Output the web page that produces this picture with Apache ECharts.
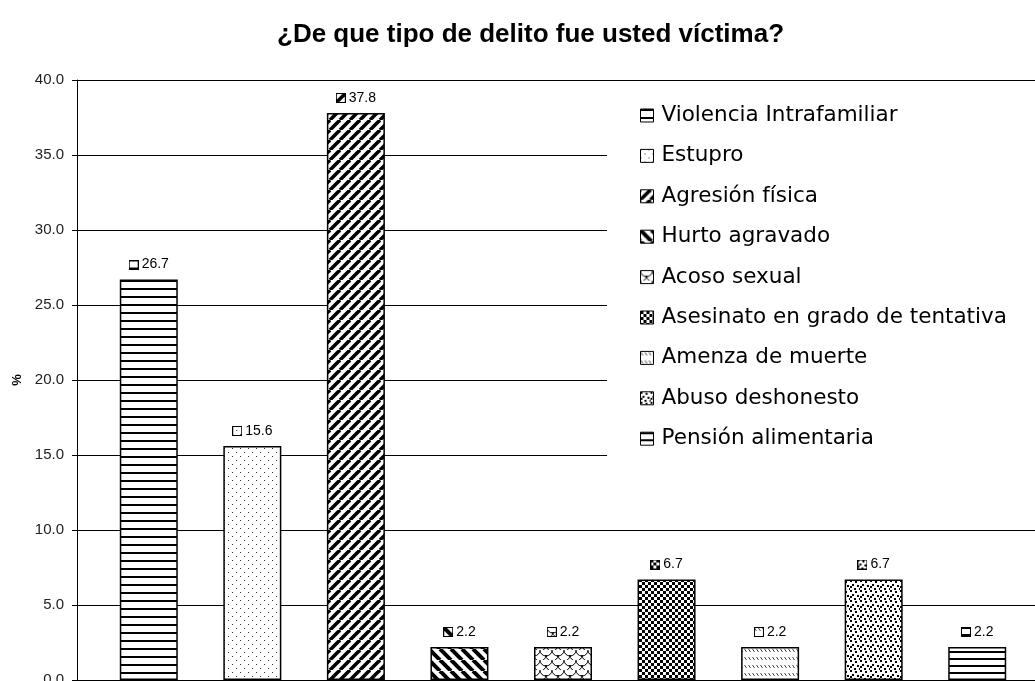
<!DOCTYPE html>
<html>
<head>
<meta charset="utf-8">
<script src="https://cdn.jsdelivr.net/npm/echarts@6/dist/echarts.min.js"></script>
<style>
html, body { margin: 0; padding: 0; background: #fff; }
#chart { width: 1035px; height: 681px; }
</style>
</head>
<body>
<div id="chart"></div>
<script>
// data
const categories = ['Violencia Intrafamiliar', 'Estupro', 'Agresión física', 'Hurto agravado', 'Acoso sexual', 'Asesinato en grado de tentativa', 'Amenza de muerte', 'Abuso deshonesto', 'Pensión alimentaria']
const values = [26.7, 15.6, 37.8, 2.2, 2.2, 6.7, 2.2, 6.7, 2.2]
const yMin = 0
const yMax = 40
const yStep = 5

// small black & white fill tiles, like the old office hatch fills
function tile(w, h, draw) {
  const c = document.createElement('canvas')
  c.width = w
  c.height = h
  const ctx = c.getContext('2d')
  ctx.fillStyle = '#fff'
  ctx.fillRect(0, 0, w, h)
  ctx.fillStyle = '#000'
  ctx.strokeStyle = '#000'
  draw(ctx, w, h)
  return c
}
function diag(ctx, s, up) {
  for (const k of [-s, 0, s]) {
    ctx.beginPath()
    if (up) { ctx.moveTo(k, s); ctx.lineTo(k + s, 0) } else { ctx.moveTo(k, 0); ctx.lineTo(k + s, s) }
    ctx.stroke()
  }
}
// the little legend key shown in front of each value label
function keyIcon(pat) {
  return tile(10, 10, ctx => {
    ctx.fillStyle = ctx.createPattern(pat, 'repeat')
    ctx.fillRect(0, 0, 10, 10)
    ctx.lineWidth = 1
    ctx.strokeRect(0.5, 0.5, 9, 9)
  })
}
const patterns = [
  tile(8, 8, ctx => ctx.fillRect(0, 0, 8, 2)),
  tile(8, 8, ctx => { ctx.fillStyle = '#333'; ctx.fillRect(0, 0, 1, 1); ctx.fillRect(4, 4, 1, 1) }),
  tile(10, 10, ctx => { ctx.lineWidth = 3.5; diag(ctx, 10, true) }),
  tile(11, 11, ctx => { ctx.lineWidth = 4; diag(ctx, 11, false) }),
  tile(12, 10, ctx => {
    ctx.lineWidth = 1
    ctx.beginPath(); ctx.arc(6, 0, 6, 0, Math.PI); ctx.stroke()
    ctx.beginPath(); ctx.arc(0, 5, 6, 0, Math.PI); ctx.stroke()
    ctx.beginPath(); ctx.arc(12, 5, 6, 0, Math.PI); ctx.stroke()
    ctx.beginPath(); ctx.arc(6, 10, 6, 0, Math.PI); ctx.stroke()
  }),
  tile(6, 6, ctx => { ctx.fillRect(0, 0, 3, 3); ctx.fillRect(3, 3, 3, 3) }),
  tile(4, 8, ctx => { ctx.strokeStyle = '#444'; ctx.lineWidth = 1; ctx.beginPath(); ctx.moveTo(0.5, 1); ctx.lineTo(2.5, 4); ctx.stroke() }),
  tile(10, 10, ctx => {
    ;[[0, 0], [5, 1], [2, 4], [7, 5], [4, 8], [9, 8], [0, 6]].forEach(d => ctx.fillRect(d[0], d[1], 2, 2))
  }),
  tile(8, 7, ctx => ctx.fillRect(0, 0, 8, 2))
]

const chart = echarts.init(document.getElementById('chart'))

const series = categories.map((name, i) => ({
  name: name,
  type: 'bar',
  stack: 'all',
  xAxisIndex: 1,
  yAxisIndex: 1,
  barWidth: 58,
  data: values.map((v, j) => (j === i ? v : '-')),
  itemStyle: {
    color: { image: patterns[i], repeat: 'repeat' },
    borderColor: '#000',
    borderWidth: 1.5
  },
  label: {
    show: true,
    position: 'top',
    distance: 8,
    formatter: p => '{icon|}{val|' + Number(p.value).toFixed(1) + '}',
    rich: {
      icon: {
        width: 10,
        height: 10,
        backgroundColor: { image: keyIcon(patterns[i]) }
      },
      val: {
        fontFamily: 'Liberation Sans',
        fontSize: 14,
        color: '#000',
        padding: [0, 0, 0, 3]
      }
    }
  }
}))

chart.setOption({
  animation: false,
  title: {
    text: '¿De que tipo de delito fue usted víctima?',
    left: 272,
    top: 17,
    textStyle: {
      fontFamily: 'Liberation Sans',
      fontSize: 26,
      fontWeight: 'bold',
      color: '#000'
    }
  },
  legend: {
    orient: 'vertical',
    left: 607,
    top: 89.5,
    padding: [15, 80, 20, 33],
    backgroundColor: '#fff',
    itemWidth: 13,
    itemHeight: 13,
    itemGap: 18.4,
    icon: 'rect',
    itemStyle: { borderColor: '#000', borderWidth: 1 },
    textStyle: {
      fontFamily: 'DejaVu Sans',
      fontSize: 21.5,
      lineHeight: 22,
      color: '#000',
      padding: [0, 0, 0, 3]
    },
    data: categories
  },
  grid: [
    { left: 77, right: 0, top: 80, bottom: 1, outerBoundsMode: 'none', containLabel: false },
    { left: 97, right: 6, top: 80, bottom: 1, outerBoundsMode: 'none', containLabel: false }
  ],
  xAxis: [
    { type: 'value', gridIndex: 0, min: 0, max: 1, show: false },
    { type: 'category', gridIndex: 1, data: categories, show: false }
  ],
  yAxis: [
    {
      type: 'value',
      gridIndex: 0,
      min: yMin,
      max: yMax,
      interval: yStep,
      name: '%',
      nameLocation: 'middle',
      nameRotate: 90,
      nameGap: 52,
      nameTextStyle: { fontFamily: 'Liberation Sans', fontSize: 13, fontWeight: 'bold', color: '#000' },
      axisLine: { show: true, lineStyle: { color: '#000', width: 1 } },
      axisTick: { show: true, length: 5, lineStyle: { color: '#000' } },
      axisLabel: {
        fontFamily: 'Liberation Sans',
        fontSize: 15,
        color: '#222',
        margin: 13,
        formatter: v => v.toFixed(1)
      },
      splitLine: { show: true, lineStyle: { color: '#000', width: 1 } }
    },
    { type: 'value', gridIndex: 1, min: yMin, max: yMax, interval: yStep, show: false }
  ],
  series: series
})
</script>
</body>
</html>
